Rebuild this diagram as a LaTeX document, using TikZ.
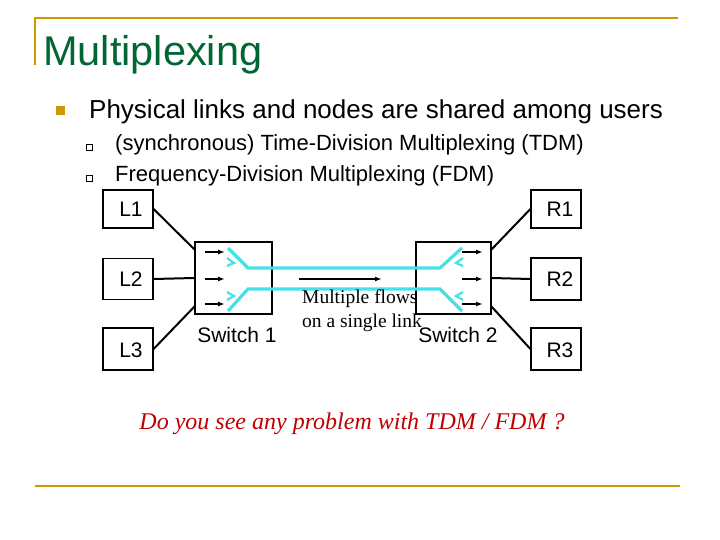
\documentclass[tikz,border=0pt]{standalone}
\usepackage{fontspec}
\usetikzlibrary{arrows.meta}
\setmainfont{Liberation Sans}
\newfontfamily\serifx{Liberation Serif}
\begin{document}
\begin{tikzpicture}[x=1pt,y=-1pt,
  box/.style={draw,line width=1.2pt,inner sep=0pt},
  lbl/.style={font=\fontsize{21}{23}\selectfont},
  link/.style={line width=2pt},
  cy/.style={cyanx,line width=3.2pt},
  arr/.style={-{Latex[length=7pt,width=5pt]},line width=2pt}]
\useasboundingbox (0,0) rectangle (720,540);
\definecolor{gold}{RGB}{204,153,0}
\definecolor{tgreen}{RGB}{0,102,51}
\definecolor{cyanx}{RGB}{70,225,230}
\draw[gold,line width=2.5pt] (35,65) -- (35,18) -- (678,18);
\draw[gold,line width=2.5pt] (35,486) -- (680,486);
\node[anchor=base west,text=tgreen,font=\fontsize{41.5}{44}\selectfont,inner sep=0] (t) at (43,66) {Multiplexing};
\node[fill=gold,minimum size=9pt,inner sep=0] (b0) at (60,111) {};
\node[anchor=base west,inner sep=0,font=\fontsize{26}{28}\selectfont] (p) at (89,119) {Physical links and nodes are shared among users};
\node[draw,minimum size=6pt,inner sep=0,line width=0.5pt] (b1) at (89,147) {};
\node[draw,minimum size=6pt,inner sep=0,line width=0.5pt] (b2) at (89,178) {};
\node[anchor=base west,inner sep=0,font=\fontsize{22}{24}\selectfont] (s1) at (115,151) {(synchronous) Time-Division Multiplexing (TDM)};
\node[anchor=base west,inner sep=0,font=\fontsize{22}{24}\selectfont] (s2) at (115,182) {Frequency-Division Multiplexing (FDM)};
% boxes
\node[box,minimum width=50pt,minimum height=38pt] (L1) at (128,209) {};
\node[box,minimum width=50pt,minimum height=41pt] (L2) at (128,279) {};
\node[box,minimum width=50pt,minimum height=42pt] (L3) at (128,349) {};
\node[box,minimum width=50pt,minimum height=38pt] (R1) at (556,209) {};
\node[box,minimum width=50pt,minimum height=42pt] (R2) at (556,279) {};
\node[box,minimum width=50pt,minimum height=42pt] (R3) at (556,349) {};
\node[lbl] at (131,209) {L1};
\node[lbl] at (131,279) {L2};
\node[lbl] at (131,350) {L3};
\node[lbl] at (560,209) {R1};
\node[lbl] at (560,279) {R2};
\node[lbl] at (560,350) {R3};
\node[box,minimum width=77pt,minimum height=72pt] (S1) at (233.5,278) {};
\node[box,minimum width=75pt,minimum height=72pt] (S2) at (453.5,278) {};
\node[lbl] (S1l) at (237,335) {Switch 1};
\node[lbl] (S2l) at (458,335) {Switch 2};
% links
\coordinate (a1) at (195,250); \coordinate (a3) at (195,306);
\coordinate (c1) at (491,250); \coordinate (c3) at (491,306);
\draw[link] (L1.east) -- (a1);
\draw[link] (L2.east) -- (S1.west);
\draw[link] (L3.east) -- (a3);
\draw[link] (R1.west) -- (c1);
\draw[link] (R2.west) -- (S2.east);
\draw[link] (R3.west) -- (c3);
% cyan
\draw[cy] (228,248) -- (248,268) -- (440,268) -- (462,248);
\draw[cy] (228,311) -- (248,289) -- (440,289) -- (462,311);
\draw[cy,line width=2.2pt] (227,258) -- (234,263) -- (227,266);
\draw[cy,line width=2.2pt] (227,292) -- (234,296) -- (227,300);
\draw[cy,line width=2.2pt] (463,258) -- (456,263) -- (463,266);
\draw[cy,line width=2.2pt] (463,292) -- (456,296) -- (463,300);
% arrows
\foreach \y in {252,279,304}{
  \draw[arr] (205,\y) -- (225,\y);
  \draw[arr] (462,\y) -- (483,\y);}
\draw[arr] (299,279) -- (382,279);
\node[anchor=base west,inner sep=0,font=\serifx\fontsize{19.5}{21}\selectfont] (m1) at (302,303) {Multiple flows};
\node[anchor=base west,inner sep=0,font=\serifx\fontsize{19.5}{21}\selectfont] (m2) at (302,327) {on a single link};
\node[anchor=base,inner sep=0,text=red!75!black,font=\serifx\itshape\fontsize{24}{26}\selectfont] (q) at (352,429) {Do you see any problem with TDM / FDM ?};
\end{tikzpicture}
\end{document}
